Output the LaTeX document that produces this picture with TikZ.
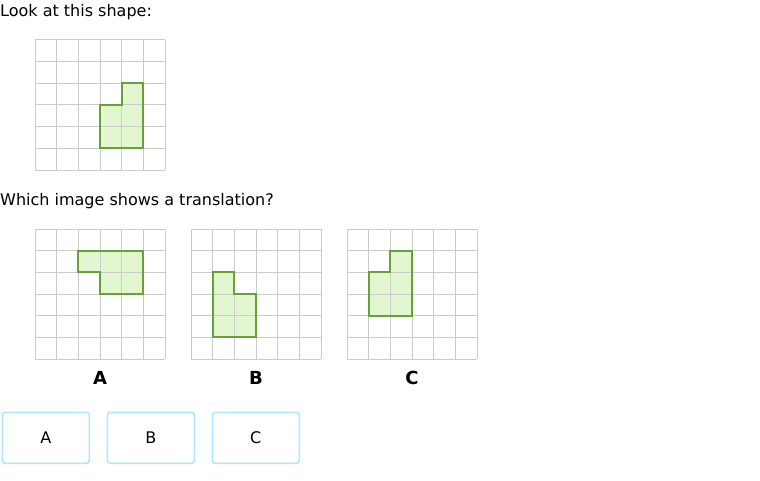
\documentclass[tikz,border=0pt]{standalone}
\usepackage{fontspec}
\setmainfont{DejaVu Sans}
\definecolor{gridc}{HTML}{CCCCCC}
\definecolor{shapeline}{HTML}{68A03A}
\definecolor{shapefill}{HTML}{E2F7D0}
\definecolor{btn}{HTML}{AEE6FA}
\newcommand\mypanel[3]{%
  \begin{scope}[shift={(#1,#2)},scale=21.667]
    \fill[shapefill] #3 -- cycle;
    \foreach \i in {0,...,6} {
      \draw[gridc,line width=1pt] (\i,0) -- (\i,6);
      \draw[gridc,line width=1pt] (0,\i) -- (6,\i);
    }
    \draw[shapeline,line width=2.2pt,line join=miter] #3 -- cycle;
  \end{scope}}
\begin{document}
\begin{tikzpicture}[x=1pt,y=-1pt,
  bodytext/.style={anchor=base west,inner sep=0pt,font=\fontsize{16}{19}\selectfont},
  panellabel/.style={anchor=base,inner sep=0pt,font=\bfseries\fontsize{18}{21}\selectfont},
  btnbox/.style={draw=btn,line width=1.6pt,rounded corners=3pt,minimum width=87pt,minimum height=51pt,inner sep=0pt,font=\fontsize{16}{19}\selectfont}]
\useasboundingbox (0,0) rectangle (760,481);
\fill[white] (0,0) rectangle (760,481);

\node[bodytext] (t1) at (0,16.7) {Look at this shape:};
\mypanel{35}{40}{(4,2) -- (5,2) -- (5,5) -- (3,5) -- (3,3) -- (4,3)}

\node[bodytext] (t2) at (0,205) {Which image shows a translation?};
\mypanel{35}{229}{(2,1) -- (5,1) -- (5,3) -- (3,3) -- (3,2) -- (2,2)}
\mypanel{191}{229}{(1,2) -- (2,2) -- (2,3) -- (3,3) -- (3,5) -- (1,5)}
\mypanel{347}{229}{(2,1) -- (3,1) -- (3,4) -- (1,4) -- (1,2) -- (2,2)}

\node[panellabel] (la) at (100,384) {A};
\node[panellabel] (lb) at (256,384) {B};
\node[panellabel] (lc) at (412,384) {C};

\node[btnbox] (ba) at (45.8,437.8) {A};
\node[btnbox] (bb) at (150.8,437.8) {B};
\node[btnbox] (bc) at (255.8,437.8) {C};
\end{tikzpicture}
\end{document}
